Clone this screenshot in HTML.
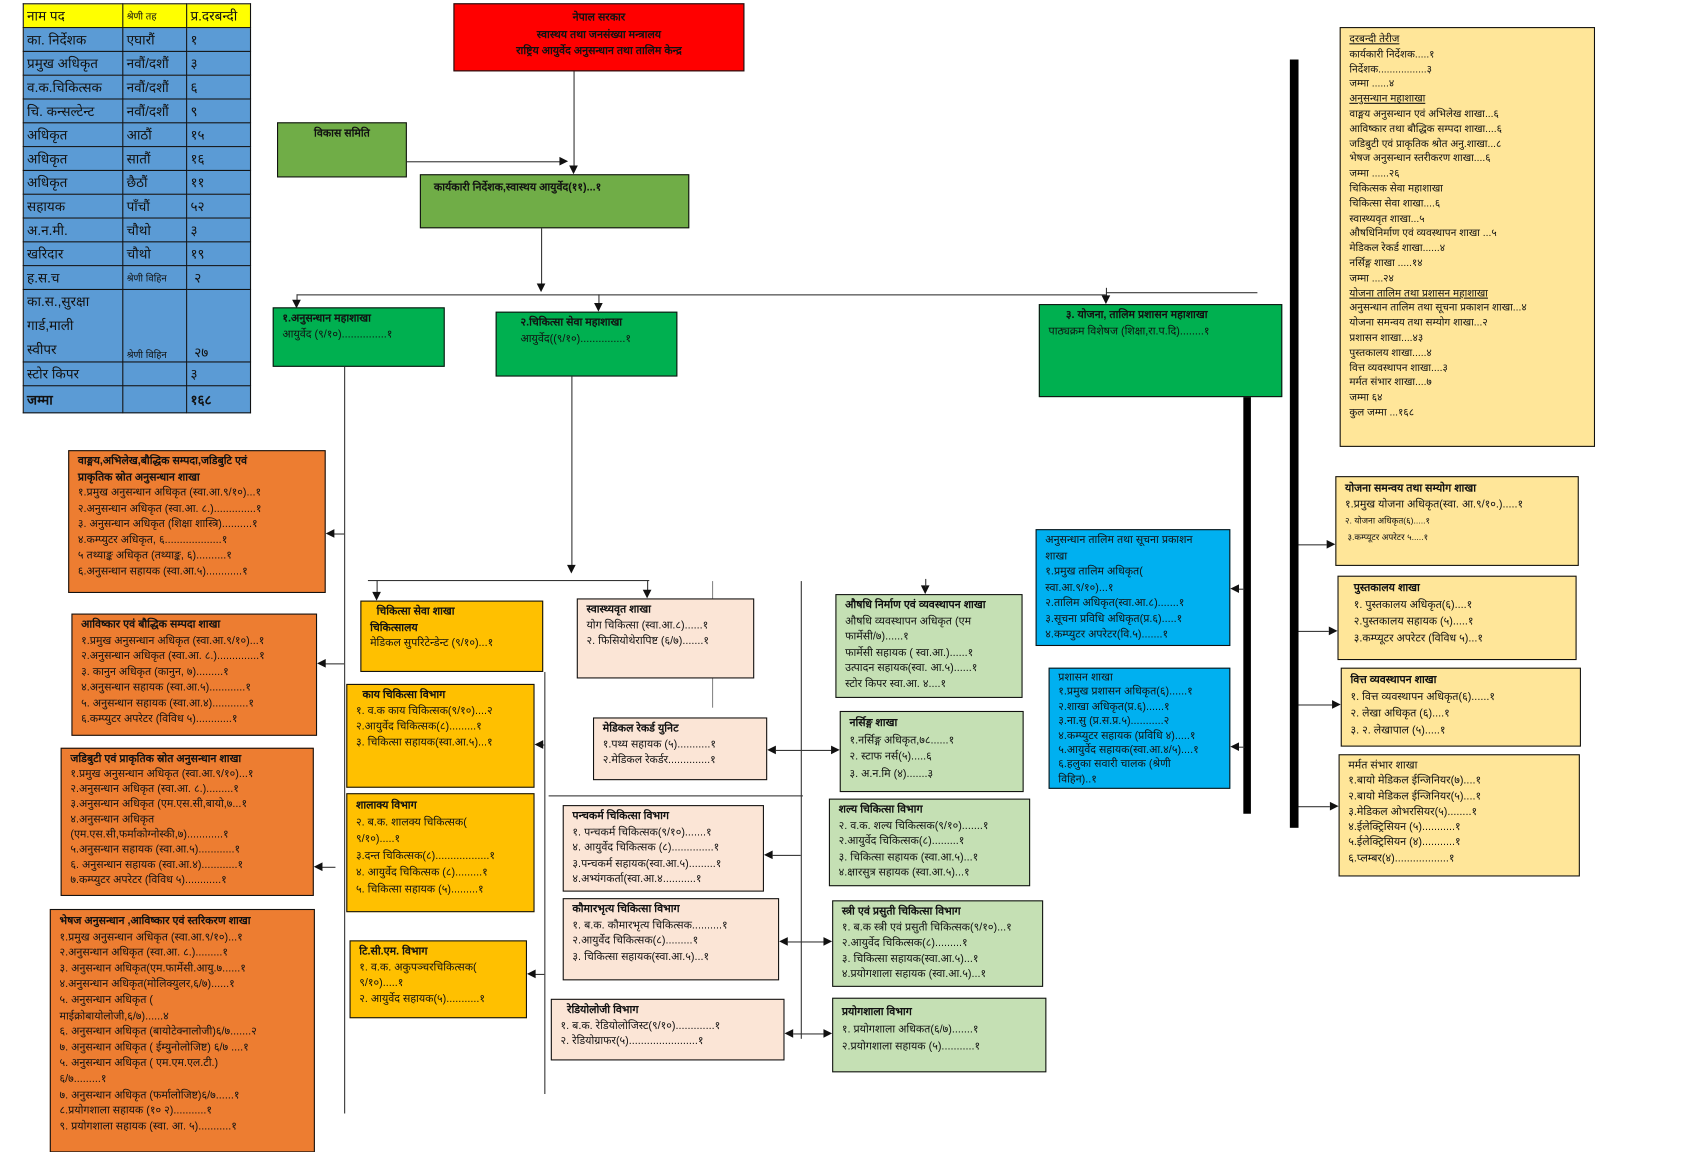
<!DOCTYPE html>
<html><head><meta charset="utf-8">
<style>
html,body{margin:0;padding:0;background:#fff;}
body{width:1688px;height:1148px;overflow:hidden;position:relative;}
#w{position:absolute;left:0;top:0;width:1560px;height:1061px;transform:scale(1.0821);transform-origin:0 0;font-family:"Liberation Sans","DejaVu Sans",sans-serif;color:#111;}
.b{position:absolute;border:1.3px solid #111;box-sizing:border-box;font-size:10px;line-height:14.5px;padding:3px 8px;white-space:nowrap;overflow:hidden;}
.b b{font-weight:bold;}
.or{background:#ed7d31;}
.am{background:#ffc000;}
.pe{background:#fbe5d6;}
.lg{background:#c5e0b4;}
.bl{background:#00b0f0;}
.ry{background:#ffe699;}
.gr{background:#00b050;}
.og{background:#70ad47;}
.l{position:absolute;background:#333;}
.h{height:1.2px;}
.v{width:1.2px;}
.al{position:absolute;width:0;height:0;border-top:4px solid transparent;border-bottom:4px solid transparent;border-right:8px solid #111;}
.ar{position:absolute;width:0;height:0;border-top:4px solid transparent;border-bottom:4px solid transparent;border-left:8px solid #111;}
.ad{position:absolute;width:0;height:0;border-left:4px solid transparent;border-right:4px solid transparent;border-top:8px solid #111;}
table{position:absolute;left:21px;top:3px;border-collapse:collapse;font-size:12.5px;}
td{border:1.3px solid #111;background:#5b9bd5;padding:0 3px;height:21px;vertical-align:middle;white-space:nowrap;}
tr.hd td{background:#ffff00;}
</style></head><body><div id="w">

<table>
<colgroup><col style="width:92px"><col style="width:59px"><col style="width:59px"></colgroup>
<tr class="hd"><td>नाम पद</td><td style="font-size:9px">श्रेणी तह</td><td>प्र.दरबन्दी</td></tr>
<tr><td>का. निर्देशक</td><td>एघारौं</td><td>१</td></tr>
<tr><td>प्रमुख अधिकृत</td><td>नवौं/दशौं</td><td>३</td></tr>
<tr><td>व.क.चिकित्सक</td><td>नवौं/दशौं</td><td>६</td></tr>
<tr><td>चि. कन्सल्टेन्ट</td><td>नवौं/दशौं</td><td>९</td></tr>
<tr><td>अधिकृत</td><td>आठौं</td><td>१५</td></tr>
<tr><td>अधिकृत</td><td>सातौं</td><td>१६</td></tr>
<tr><td>अधिकृत</td><td>छैठौं</td><td>११</td></tr>
<tr><td>सहायक</td><td>पाँचौं</td><td>५२</td></tr>
<tr><td>अ.न.मी.</td><td>चौथो</td><td>३</td></tr>
<tr><td>खरिदार</td><td>चौथो</td><td>१९</td></tr>
<tr><td>ह.स.च</td><td style="font-size:9px">श्रेणी विहिन</td><td>&nbsp;२</td></tr>
<tr><td style="height:64px;line-height:22px">का.स.,सुरक्षा<br>गार्ड,माली<br>स्वीपर</td><td style="vertical-align:bottom;font-size:9px">श्रेणी विहिन</td><td style="vertical-align:bottom">&nbsp;२७</td></tr>
<tr><td>स्टोर किपर</td><td></td><td>३</td></tr>
<tr><td style="height:24px"><b>जम्मा</b></td><td></td><td><b>१६८</b></td></tr>
</table>

<div class="b" style="left:419px;top:3px;width:269px;height:63px;background:#ff0000;text-align:center;font-weight:bold;line-height:15.5px;padding-top:5px">नेपाल सरकार<br>स्वास्थय तथा जनसंख्या मन्त्रालय<br>राष्ट्रिय आयुर्वेद अनुसन्धान तथा तालिम केन्द्र</div>

<div class="b og" style="left:256px;top:113px;width:120px;height:51px;text-align:center;font-weight:bold">विकास समिति</div>
<div class="l h" style="left:376px;top:149px;width:142px"></div><div class="ar" style="left:517px;top:145px"></div>
<div class="l v" style="left:530px;top:66px;height:88px"></div><div class="ad" style="left:526px;top:153px"></div>

<div class="b og" style="left:388px;top:161px;width:249px;height:50px;font-weight:bold;padding:5px 12px">कार्यकारी निर्देशक,स्वास्थय आयुर्वेद(११)...१</div>
<div class="l v" style="left:500px;top:211px;height:53px"></div><div class="ad" style="left:496px;top:262px"></div>
<div class="l h" style="left:274px;top:272px;width:748px"></div>
<div class="l h" style="left:1022px;top:270px;width:140px"></div>
<div class="l v" style="left:274px;top:272px;height:6px"></div><div class="ad" style="left:270px;top:277px"></div>
<div class="l v" style="left:553px;top:272px;height:8px"></div><div class="ad" style="left:549px;top:280px"></div>
<div class="l v" style="left:1022px;top:266px;height:8px"></div><div class="ad" style="left:1018px;top:273px"></div>

<div class="b gr" style="left:252px;top:284px;width:159px;height:55px"><b>१.अनुसन्धान महाशाखा</b><br>आयुर्वेद (९/१०)...............१</div>
<div class="b gr" style="left:458px;top:288px;width:168px;height:60px;padding-left:22px"><b>२.चिकित्सा सेवा महाशाखा</b><br>आयुर्वेद((९/१०)...............१</div>
<div class="b gr" style="left:960px;top:281px;width:225px;height:86px"><b style="margin-left:16px">३. योजना, तालिम प्रशासन महाशाखा</b><br>पाठ्यक्रम विशेषज (शिक्षा,रा.प.दि)........१</div>

<div class="l" style="left:1192px;top:55px;width:8px;height:710px;background:#000"></div>
<div class="l" style="left:1149px;top:367px;width:7px;height:385px;background:#000"></div>

<div class="b ry" style="left:1238px;top:25px;width:236px;height:388px;line-height:13.8px;font-size:9.5px;padding-top:4px">
<u>दरबन्दी तेरीज</u><br>कार्यकारी निर्देशक.....१<br>निर्देशक.................३<br>जम्मा ......४<br><u>अनुसन्धान महाशाखा</u><br>वाङ्मय अनुसन्धान एवं अभिलेख शाखा...६<br>आविष्कार तथा बौद्धिक सम्पदा शाखा....६<br>जडिबुटी एवं प्राकृतिक श्रोत अनु.शाखा...८<br>भेषज अनुसन्धान स्तरीकरण शाखा....६<br>जम्मा ......२६<br>चिकित्सक सेवा महाशाखा<br>चिकित्सा सेवा शाखा....६<br>स्वास्थ्यवृत शाखा...५<br>औषधिनिर्माण एवं व्यवस्थापन शाखा ...५<br>मेडिकल रेकर्ड शाखा......४<br>नर्सिङ्ग शाखा .....१४<br>जम्मा ....२४<br><u>योजना तालिम तथा प्रशासन महाशाखा</u><br>अनुसन्धान तालिम तथा सूचना प्रकाशन शाखा...४<br>योजना समन्वय तथा सम्योग शाखा...२<br>प्रशासन शाखा....४३<br>पुस्तकालय शाखा.....४<br>वित्त व्यवस्थापन शाखा....३<br>मर्मत संभार शाखा....७<br>जम्मा ६४<br>कुल जम्मा ...१६८</div>

<div class="l v" style="left:318px;top:339px;height:690px"></div>
<div class="b or" style="left:63px;top:416px;width:238px;height:132px"><b>वाङ्मय,अभिलेख,बौद्धिक सम्पदा,जडिबुटि एवं<br>प्राकृतिक स्रोत अनुसन्धान शाखा</b><br>१.प्रमुख अनुसन्धान अधिकृत (स्वा.आ.९/१०)...१<br>२.अनुसन्धान अधिकृत (स्वा.आ. ८.)..............१<br>३. अनुसन्धान अधिकृत (शिक्षा शास्त्रि)..........१<br>४.कम्प्युटर अधिकृत, ६...................१<br>५ तथ्याङ्क अधिकृत (तथ्याङ्क, ६)..........१<br>६.अनुसन्धान सहायक (स्वा.आ.५)............१</div>
<div class="l h" style="left:308px;top:493px;width:10px"></div><div class="al" style="left:301px;top:489px"></div>
<div class="b or" style="left:66px;top:567px;width:227px;height:113px"><b>आविष्कार एवं बौद्धिक सम्पदा शाखा</b><br>१.प्रमुख अनुसन्धान अधिकृत (स्वा.आ.९/१०)...१<br>२.अनुसन्धान अधिकृत (स्वा.आ. ८.)..............१<br>३. कानुन अधिकृत (कानुन, ७).........१<br>४.अनुसन्धान सहायक (स्वा.आ.५)............१<br>५. अनुसन्धान सहायक (स्वा.आ.४)............१<br>६.कम्प्युटर अपरेटर (विविध ५)............१</div>
<div class="l h" style="left:300px;top:613px;width:18px"></div><div class="al" style="left:293px;top:609px"></div>
<div class="b or" style="left:56px;top:691px;width:234px;height:137px;line-height:14px"><b>जडिबुटी एवं प्राकृतिक स्रोत अनुसन्धान शाखा</b><br>१.प्रमुख अनुसन्धान अधिकृत (स्वा.आ.९/१०)...१<br>२.अनुसन्धान अधिकृत (स्वा.आ. ८.).........१<br>३.अनुसन्धान अधिकृत (एम.एस.सी,बायो,७...१<br>४.अनुसन्धान अधिकृत<br>(एम.एस.सी,फर्माकोग्नोस्की,७)............१<br>५.अनुसन्धान सहायक (स्वा.आ.५)............१<br>६. अनुसन्धान सहायक (स्वा.आ.४)............१<br>७.कम्प्युटर अपरेटर (विविध ५)............१</div>
<div class="l h" style="left:298px;top:801px;width:12px"></div><div class="al" style="left:290px;top:797px"></div>
<div class="b or" style="left:46px;top:840px;width:245px;height:225px;line-height:14.6px;padding-top:4px"><b>भेषज अनुसन्धान ,आविष्कार एवं स्तरिकरण शाखा</b><br>१.प्रमुख अनुसन्धान अधिकृत (स्वा.आ.९/१०)...१<br>२.अनुसन्धान अधिकृत (स्वा.आ. ८.).........१<br>३. अनुसन्धान अधिकृत(एम.फार्मेसी.आयु.७......१<br>४.अनुसन्धान अधिकृत(मोलिक्युलर,६/७)......१<br>५. अनुसन्धान अधिकृत (<br>माईक्रोबायोलोजी,६/७)......४<br>६. अनुसन्धान अधिकृत (बायोटेक्नालोजी)६/७.......२<br>७. अनुसन्धान अधिकृत ( ईम्युनोलोजिष्ट) ६/७ ....१<br>५. अनुसन्धान अधिकृत ( एम.एम.एल.टी.)<br>६/७.........१<br>७. अनुसन्धान अधिकृत (फर्मालोजिष्ट)६/७......१<br>८.प्रयोगशाला सहायक (१० २)...........१<br>९. प्रयोगशाला सहायक (स्वा. आ. ५)...........१</div>

<div class="l v" style="left:528px;top:348px;height:180px"></div><div class="ad" style="left:524px;top:522px"></div>
<div class="l h" style="left:340px;top:536px;width:260px"></div>
<div class="l v" style="left:348px;top:536px;height:12px"></div><div class="ad" style="left:344px;top:547px"></div>
<div class="l v" style="left:598px;top:536px;height:10px"></div><div class="ad" style="left:594px;top:545px"></div>
<div class="l v" style="left:503px;top:621px;height:390px"></div>
<div class="l h" style="left:498px;top:688px;width:5px"></div><div class="al" style="left:494px;top:684px"></div>
<div class="l h" style="left:494px;top:900px;width:9px"></div><div class="al" style="left:487px;top:896px"></div>
<div class="l v" style="left:740px;top:537px;height:423px"></div>
<div class="l v" style="left:658px;top:537px;height:117px;background:#888"></div>
<div class="l h" style="left:507px;top:735px;width:235px"></div>
<div class="l h" style="left:717px;top:693px;width:51px"></div><div class="al" style="left:709px;top:689px"></div><div class="ar" style="left:768px;top:689px"></div>
<div class="l h" style="left:714px;top:790px;width:26px"></div><div class="al" style="left:706px;top:786px"></div>
<div class="l h" style="left:728px;top:870px;width:34px"></div><div class="al" style="left:720px;top:866px"></div><div class="ar" style="left:761px;top:866px"></div>
<div class="l h" style="left:733px;top:955px;width:28px"></div><div class="al" style="left:725px;top:951px"></div><div class="ar" style="left:761px;top:951px"></div>
<div class="ad" style="left:851px;top:541px"></div><div class="l v" style="left:855px;top:535px;height:8px"></div>

<div class="b am" style="left:333px;top:555px;width:169px;height:66px"><b style="margin-left:6px">चिकित्सा सेवा शाखा</b><br><b>चिकित्सालय</b><br>मेडिकल सुपरिटेन्डेन्ट (९/१०)...१</div>
<div class="b am" style="left:320px;top:632px;width:174px;height:96px"><b style="margin-left:6px">काय चिकित्सा विभाग</b><br>१. व.क काय चिकित्सक(९/१०)....२<br>२.आयुर्वेद चिकित्सक(८).........१<br>३. चिकित्सा सहायक(स्वा.आ.५)...१</div>
<div class="b am" style="left:320px;top:733px;width:174px;height:110px;line-height:15.5px"><b>शालाक्य विभाग</b><br>२. ब.क. शालक्य चिकित्सक(<br>९/१०).....१<br>३.दन्त चिकित्सक(८)..................१<br>४. आयुर्वेद चिकित्सक (८).........१<br>५. चिकित्सा सहायक (५).........१</div>
<div class="b am" style="left:323px;top:869px;width:164px;height:72px"><b>टि.सी.एम. विभाग</b><br>१. व.क. अकुपञ्चरचिकित्सक(<br>९/१०).....१<br>२. आयुर्वेद सहायक(५)...........१</div>

<div class="b pe" style="left:533px;top:553px;width:164px;height:74px"><b>स्वास्थ्यवृत शाखा</b><br>योग चिकित्सा (स्वा.आ.८)......१<br>२. फिसियोथेरापिष्ट (६/७).......१</div>
<div class="b pe" style="left:548px;top:663px;width:161px;height:58px"><b>मेडिकल रेकर्ड युनिट</b><br>१.पथ्य सहायक (५)...........१<br>२.मेडिकल रेकर्डर..............१</div>
<div class="b pe" style="left:520px;top:744px;width:186px;height:80px"><b>पन्चकर्म चिकित्सा विभाग</b><br>१. पन्चकर्म चिकित्सक(९/१०).......१<br>४. आयुर्वेद चिकित्सक (८)..............१<br>३.पन्चकर्म सहायक(स्वा.आ.५).........१<br>४.अभ्यंगकर्ता(स्वा.आ.४...........१</div>
<div class="b pe" style="left:520px;top:830px;width:200px;height:76px"><b>कौमारभृत्य चिकित्सा विभाग</b><br>१. ब.क. कौमारभृत्य चिकित्सक..........१<br>२.आयुर्वेद चिकित्सक(८).........१<br>३. चिकित्सा सहायक(स्वा.आ.५)...१</div>
<div class="b pe" style="left:509px;top:923px;width:216px;height:57px"><b style="margin-left:6px">रेडियोलोजी विभाग</b><br>१. ब.क. रेडियोलोजिस्ट(९/१०).............१<br>२. रेडियोग्राफर(५).......................१</div>

<div class="b lg" style="left:772px;top:549px;width:173px;height:96px;line-height:14.5px"><b>औषधि निर्माण एवं व्यवस्थापन शाखा</b><br>औषधि व्यवस्थापन अधिकृत (एम<br>फार्मेसी/७)......१<br>फार्मेसी सहायक ( स्वा.आ.)......१<br>उत्पादन सहायक(स्वा. आ.५)......१<br>स्टोर किपर स्वा.आ. ४....१</div>
<div class="b lg" style="left:776px;top:657px;width:170px;height:75px;line-height:15.5px"><b>नर्सिङ्ग शाखा</b><br>१.नर्सिङ्ग अधिकृत,७८......१<br>२. स्टाफ नर्स(५).....६<br>३. अ.न.मि (४).......३</div>
<div class="b lg" style="left:766px;top:738px;width:186px;height:81px"><b>शल्य चिकित्सा विभाग</b><br>२. व.क. शल्य चिकित्सक(९/१०).......१<br>२.आयुर्वेद चिकित्सक(८).........१<br>३. चिकित्सा सहायक (स्वा.आ.५)...१<br>४.क्षारसुत्र सहायक (स्वा.आ.५)...१</div>
<div class="b lg" style="left:769px;top:832px;width:195px;height:80px"><b>स्त्री एवं प्रसुती चिकित्सा विभाग</b><br>१. ब.क स्त्री एवं प्रसुती चिकित्सक(९/१०)...१<br>२.आयुर्वेद चिकित्सक(८).........१<br>३. चिकित्सा सहायक(स्वा.आ.५)...१<br>४.प्रयोगशाला सहायक (स्वा.आ.५)...१</div>
<div class="b lg" style="left:769px;top:922px;width:198px;height:69px;line-height:16px;padding-top:5px"><b>प्रयोगशाला विभाग</b><br>१. प्रयोगशाला अधिकत(६/७).......१<br>२.प्रयोगशाला सहायक (५)...........१</div>

<div class="b bl" style="left:957px;top:489px;width:180px;height:108px;line-height:14.5px">अनुसन्धान तालिम तथा सूचना प्रकाशन<br>शाखा<br>१.प्रमुख तालिम अधिकृत(<br>स्वा.आ.९/१०)...१<br>२.तालिम अधिकृत(स्वा.आ.८).......१<br>३.सूचना प्रविधि अधिकृत(प्र.६).....१<br>४.कम्प्युटर अपरेटर(वि.५).......१</div>
<div class="b bl" style="left:969px;top:617px;width:168px;height:112px;line-height:13.4px;padding-top:2px">प्रशासन शाखा<br>१.प्रमुख प्रशासन अधिकृत(६)......१<br>२.शाखा अधिकृत(प्र.६)......१<br>३.ना.सु (प्र.स.प्र.५)...........२<br>४.कम्प्युटर सहायक (प्रविधि ४).....१<br>५.आयुर्वेद सहायक(स्वा.आ.४/५)....१<br>६.हलुका सवारी चालक (श्रेणी<br>विहिन)..१</div>
<div class="l h" style="left:1145px;top:544px;width:5px"></div><div class="al" style="left:1137px;top:540px"></div>
<div class="l h" style="left:1145px;top:690px;width:5px"></div><div class="al" style="left:1137px;top:686px"></div>

<div class="b ry" style="left:1234px;top:440px;width:225px;height:83px;line-height:15px"><b>योजना समन्वय तथा सम्योग शाखा</b><br>१.प्रमुख योजना अधिकृत(स्वा. आ.९/१०.).....१<br><span style="font-size:8px">२. योजना अधिकृत(६).....१<br>&nbsp;३.कम्प्यूटर अपरेटर ५.....१</span></div>
<div class="b ry" style="left:1236px;top:532px;width:221px;height:78px;line-height:15.5px;padding-left:14px"><b>पुस्तकालय शाखा</b><br>१. पुस्तकालय अधिकृत(६)....१<br>२.पुस्तकालय सहायक (५).....१<br>३.कम्प्यूटर अपरेटर (विविध ५)...१</div>
<div class="b ry" style="left:1239px;top:617px;width:222px;height:73px;line-height:15.5px"><b>वित्त व्यवस्थापन शाखा</b><br>१. वित्त व्यवस्थापन अधिकृत(६)......१<br>२. लेखा अधिकृत (६)....१<br>३. २. लेखापाल (५).....१</div>
<div class="b ry" style="left:1237px;top:697px;width:223px;height:113px;line-height:14.3px">मर्मत संभार शाखा<br>१.बायो मेडिकल ईन्जिनियर(७)....१<br>२.बायो मेडिकल ईन्जिनियर(५)....१<br>३.मेडिकल ओभरसियर(५)........१<br>४.ईलेक्ट्रिसियन (५)...........१<br>५.ईलेक्ट्रिसियन (४)...........१<br>६.प्लम्बर(४)..................१</div>
<div class="l h" style="left:1200px;top:503px;width:26px"></div><div class="ar" style="left:1226px;top:499px"></div>
<div class="l h" style="left:1200px;top:583px;width:28px"></div><div class="ar" style="left:1228px;top:579px"></div>
<div class="l h" style="left:1200px;top:651px;width:31px"></div><div class="ar" style="left:1231px;top:647px"></div>
<div class="l h" style="left:1200px;top:745px;width:29px"></div><div class="ar" style="left:1229px;top:741px"></div>

</div></body></html>
